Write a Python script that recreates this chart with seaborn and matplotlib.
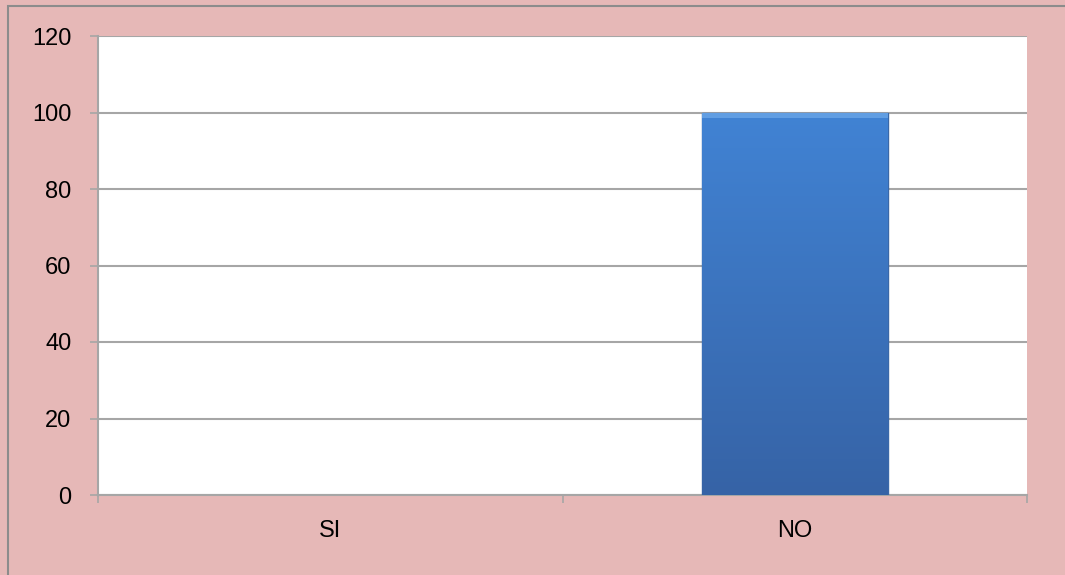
import numpy as np
import pandas as pd
import matplotlib
matplotlib.use("Agg")
import matplotlib.pyplot as plt
import seaborn as sns
from matplotlib.patches import Rectangle
from matplotlib.colors import LinearSegmentedColormap

categories = ["SI", "NO"]
values = [0, 100]
yticks = [0, 20, 40, 60, 80, 100, 120]

sns.set_theme(style="white")
plt.rcParams['font.family'] = ['Liberation Sans', 'DejaVu Sans']

bg = "#E6B8B7"
grid_c = "#A6A6A6"

fig = plt.figure(figsize=(10.65, 5.75), dpi=100)
fig.patch.set_facecolor(bg)
fig.patches.append(Rectangle((8/1065, -0.1), 1.5, 1 - 6/575 + 0.1, transform=fig.transFigure,
                             facecolor="none", edgecolor="#8C8C8C", linewidth=1.5, zorder=0))

ax = fig.add_axes([98/1065, 1 - 495/575, (1027 - 98)/1065, (495 - 36)/575])
ax.set_facecolor("white")

df = pd.DataFrame({"cat": categories, "val": values})
sns.barplot(data=df, x="cat", y="val", ax=ax, color="#3F78C0", width=0.4,
            edgecolor="#3A68A8", linewidth=1.0, zorder=3)

# gradient fill for bars
cmap = LinearSegmentedColormap.from_list("g", ["#3663A6", "#4183D4"])
grad = np.linspace(0, 1, 256).reshape(-1, 1)
for p in list(ax.patches):
    x0, y0 = p.get_x(), p.get_y()
    w, h = p.get_width(), p.get_height()
    if h <= 0:
        p.set_linewidth(0)
        continue
    im = ax.imshow(grad, cmap=cmap, aspect="auto", origin="lower",
                   extent=[x0, x0 + w, y0, y0 + h], zorder=3.5)
    im.set_clip_path(p)
    ax.add_patch(Rectangle((x0, y0 + h * 0.985), w, h * 0.015, facecolor="#6AA6E8",
                           edgecolor="none", zorder=3.6, alpha=0.8))

ax.set_xlim(-0.5, 1.5)
ax.set_ylim(0, 120)
ax.set_yticks(yticks)
ax.set_yticklabels([str(t) for t in yticks])
ax.yaxis.grid(True, color=grid_c, linewidth=1.5, zorder=0)
ax.set_axisbelow(True)

ax.set_xlabel("")
ax.set_ylabel("")

ax.set_xticks([0, 1])
ax.set_xticklabels(categories)
ax.set_xticks([-0.5, 0.5, 1.5], minor=True)
ax.tick_params(axis="x", which="major", length=0, pad=18, labelsize=17, colors="black")
ax.tick_params(axis="x", which="minor", length=6, width=1.2, color=grid_c, direction="out", bottom=True)
ax.tick_params(axis="y", which="major", length=6, width=1.2, color=grid_c, direction="out",
               pad=13, labelsize=17, left=True, labelcolor="black")

for s in ["top", "right"]:
    ax.spines[s].set_visible(False)
for s in ["left", "bottom"]:
    ax.spines[s].set_color(grid_c)
    ax.spines[s].set_linewidth(1.5)

fig.savefig("out.png", dpi=100, facecolor=bg)
